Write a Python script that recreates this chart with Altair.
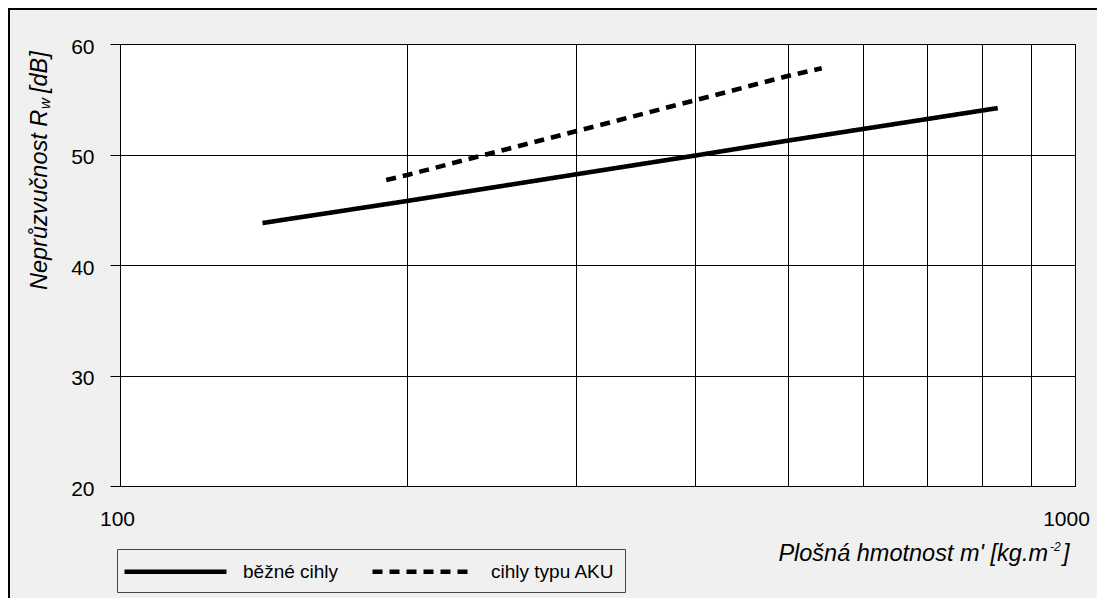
import altair as alt
import pandas as pd

# ---- data ----
series_names = ["běžné cihly", "cihly typu AKU"]
bezne_m = [141, 200, 300, 400, 500, 830]
bezne_R = [43.8, 45.8, 48.2, 49.9, 51.25, 54.2]
aku_m = [190, 200, 300, 400, 500, 543]
aku_R = [47.7, 48.15, 52.1, 54.9, 57.1, 57.8]

x_ticks = [100, 200, 300, 400, 500, 600, 700, 800, 900, 1000]
x_labelled = [100, 1000]
y_ticks = [20, 30, 40, 50, 60]
x_title_main = ["Plošná hmotnost m' [kg.m"]
x_title_sup = ["-2"]
x_title_end = ["]"]
y_title_main = ["Neprůzvučnost R"]
y_title_sub = ["w"]
y_title_unit = ["[dB]"]

FONT = "Liberation Sans"
BG = "#f0f0f0"

df = pd.DataFrame({
    "series": [series_names[0]] * len(bezne_m) + [series_names[1]] * len(aku_m),
    "m": bezne_m + aku_m,
    "R": bezne_R + aku_R,
})

label_expr = "(" + " || ".join(f"datum.value == {v}" for v in x_labelled) + ") ? datum.label : ''"

lines = alt.Chart(df).mark_line(strokeWidth=4.6, color="black", strokeCap="butt").encode(
    x=alt.X(
        "m:Q",
        scale=alt.Scale(type="log", domain=[x_ticks[0], x_ticks[-1]], nice=False),
        axis=alt.Axis(
            values=x_ticks, format="d", labelExpr=label_expr, labelFlush=False,
            labelOverlap=False, labelAlign="center", tickSize=0, labelPadding=22,
            labelOffset={"condition": {"test": f"datum.value == {x_labelled[-1]}", "value": -9}, "value": -3},
            labelFont=FONT, labelFontSize=21, labelColor="black",
            grid=True, gridColor="black", gridOpacity=1, gridWidth=1,
            domainColor="black", domainWidth=1, title=None,
        ),
    ),
    y=alt.Y(
        "R:Q",
        scale=alt.Scale(domain=[y_ticks[0], y_ticks[-1]], nice=False, zero=False),
        axis=alt.Axis(
            values=y_ticks, tickSize=10, tickColor="black", tickWidth=1,
            labelPadding=16, labelFont=FONT, labelFontSize=21, labelColor="black",
            labelBaseline="middle", labelOffset=3,
            grid=True, gridColor="black", gridOpacity=1, gridWidth=1,
            domainColor="black", domainWidth=1, title=None,
        ),
    ),
    strokeDash=alt.StrokeDash(
        "series:N",
        scale=alt.Scale(domain=series_names, range=[[1, 0], [10, 7]]),
        sort=series_names,
        legend=alt.Legend(
            orient="none", legendX=-3, legendY=505, direction="horizontal",
            title=None, symbolType="M-1.5,0H8.7", symbolSize=400,
            symbolStrokeWidth=4.6, symbolStrokeColor="black", symbolFillColor="black",
            labelFont=FONT, labelFontSize=19, labelColor="black", labelOffset=91,
            labelLimit=0, columnPadding=24, padding=10,
            strokeColor="#444444", fillColor=BG,
        ),
    ),
    detail="series:N",
)

frame = alt.Chart(pd.DataFrame({"k": [0]})).mark_rect(
    filled=False, stroke="black", strokeWidth=2
).encode(x=alt.value(-111), y=alt.value(-35), x2=alt.value(3000), y2=alt.value(3000))


def label_text(values, size, x, y, angle=0, align="left"):
    return alt.Chart(pd.DataFrame({"t": values})).mark_text(
        font=FONT, fontSize=size, fontStyle="italic", angle=angle, align=align,
        baseline="alphabetic", color="black"
    ).encode(text="t:N", x=alt.value(x), y=alt.value(y))


# y-axis title (with subscript)
t_main = label_text(y_title_main, 23.5, -73, 246, angle=270)
t_sub = label_text(y_title_sub, 15, -70, 65, angle=270)
t_unit = label_text(y_title_unit, 23.5, -73, 49, angle=270)

# x-axis title (with superscript)
x_main = label_text(x_title_main, 23.5, 928, 517, align="right")
x_sup = label_text(x_title_sup, 12, 930, 507)
x_end = label_text(x_title_end, 23.5, 943, 517)

chart = alt.layer(frame, lines, t_main, t_sub, t_unit, x_main, x_sup, x_end).properties(
    width=955, height=442,
    padding={"left": 112, "top": 36, "right": 22, "bottom": 112},
    autosize=alt.AutoSizeParams(type="none"),
    background=BG,
).configure_view(
    fill="white", stroke="black", strokeWidth=1
)

chart.save("out.html", embed_options={"renderer": "svg", "actions": False})
